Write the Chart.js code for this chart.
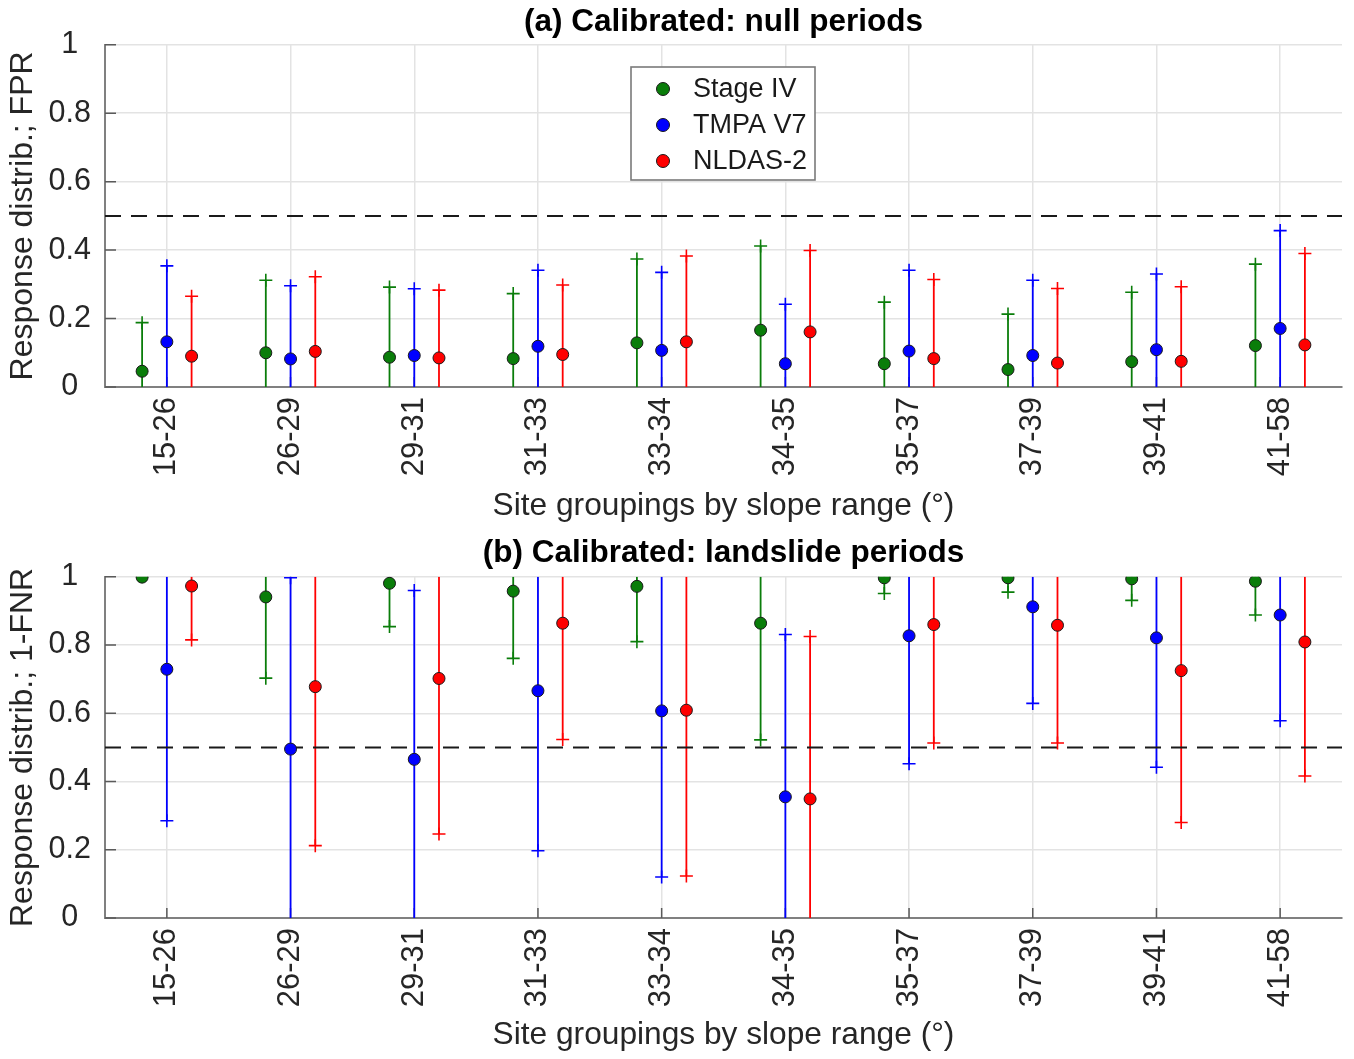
<!DOCTYPE html>
<html>
<head>
<meta charset="utf-8">
<script src="https://cdn.jsdelivr.net/npm/chart.js@4.4.1/dist/chart.umd.min.js"></script>
<style>
  html, body { margin: 0; padding: 0; background: #ffffff; }
  #wrap { position: relative; width: 1354px; height: 1059px; }
  canvas { position: absolute; left: 0; }
</style>
</head>
<body>
<div id="wrap">
  <canvas id="nullChart" width="1354" height="530" style="top:0px"></canvas>
  <canvas id="slideChart" width="1354" height="529" style="top:530px"></canvas>
</div>
<script>
// Site groupings (slope range, degrees)
const slopeRanges = ['15-26', '26-29', '29-31', '31-33', '33-34', '34-35', '35-37', '37-39', '39-41', '41-58'];
const seriesNames = ['Stage IV', 'TMPA V7', 'NLDAS-2'];
const yTickValues = [0, 0.2, 0.4, 0.6, 0.8, 1];
const yTickLabels = ['0', '0.2', '0.4', '0.6', '0.8', '1'];
const threshold = 0.5;

// (a) null periods: median FPR and response-distribution range
const stage4NullMed = [0.046, 0.100, 0.087, 0.083, 0.129, 0.166, 0.068, 0.051, 0.074, 0.121];
const stage4NullLo  = [0, 0, 0, 0, 0, 0, 0, 0, 0, 0];
const stage4NullHi  = [0.188, 0.312, 0.292, 0.273, 0.374, 0.412, 0.248, 0.213, 0.277, 0.359];
const tmpaNullMed   = [0.132, 0.082, 0.092, 0.119, 0.107, 0.068, 0.105, 0.092, 0.109, 0.171];
const tmpaNullLo    = [0, 0, 0, 0, 0, 0, 0, 0, 0, 0];
const tmpaNullHi    = [0.354, 0.296, 0.287, 0.341, 0.335, 0.242, 0.341, 0.312, 0.330, 0.457];
const nldasNullMed  = [0.090, 0.104, 0.085, 0.095, 0.132, 0.161, 0.083, 0.070, 0.075, 0.123];
const nldasNullLo   = [0, 0, 0, 0, 0, 0, 0, 0, 0, 0];
const nldasNullHi   = [0.265, 0.322, 0.283, 0.298, 0.383, 0.399, 0.314, 0.288, 0.293, 0.390];

// (b) landslide periods: median 1-FNR and response-distribution range
const stage4SlideMed = [0.999, 0.941, 0.981, 0.958, 0.972, 0.864, 0.997, 0.997, 0.994, 0.987];
const stage4SlideLo  = [1.000, 0.703, 0.854, 0.761, 0.810, 0.522, 0.951, 0.955, 0.931, 0.888];
const stage4SlideHi  = [1, 1, 1, 1, 1, 1, 1, 1, 1, 1];
const tmpaSlideMed   = [0.729, 0.495, 0.465, 0.666, 0.607, 0.355, 0.827, 0.912, 0.821, 0.888];
const tmpaSlideLo    = [0.285, 0, 0, 0.197, 0.120, 0, 0.452, 0.629, 0.442, 0.578];
const tmpaSlideHi    = [1, 0.997, 0.960, 1, 1, 0.831, 1, 1, 1, 1];
const nldasSlideMed  = [0.973, 0.678, 0.702, 0.864, 0.609, 0.349, 0.860, 0.858, 0.725, 0.809];
const nldasSlideLo   = [0.815, 0.212, 0.246, 0.523, 0.123, 0, 0.513, 0.513, 0.280, 0.416];
const nldasSlideHi   = [1, 1, 1, 1, 1, 0.825, 1, 1, 1, 1];

// Styling
const seriesColors = ['#0a7d0a', '#0000ff', '#ff0000'];
const seriesOffsets = [-0.2, 0, 0.2];
const FONT = "'Liberation Sans', Arial, Helvetica, sans-serif";
const TEXT = '#262626';
const GRID = '#e3e3e3';
const AXIS = '#808080';

function buildDatasets(meds, los, his) {
  const sets = [];
  meds.forEach((med, s) => {
    const color = seriesColors[s];
    const off = seriesOffsets[s];
    // whisker line from lower to upper end, with "+" at inner ends
    const segs = [];
    const ends = [];
    med.forEach((_, i) => {
      const x = i + 1 + off;
      segs.push({ x: x, y: los[s][i] }, { x: x, y: his[s][i] }, { x: x, y: null });
      [los[s][i], his[s][i]].forEach(v => { if (v > 0 && v < 1) ends.push({ x: x, y: v }); });
    });
    sets.push({
      type: 'line', data: segs, borderColor: color, borderWidth: 1.8,
      pointRadius: 0, spanGaps: false, showLine: true, order: 4
    });
    sets.push({
      type: 'scatter', data: ends, pointStyle: 'cross', pointRadius: 6.5,
      borderColor: color, pointBorderWidth: 1.6, borderWidth: 1.6, order: 2
    });
    sets.push({
      type: 'scatter', label: seriesNames[s],
      data: med.map((v, i) => ({ x: i + 1 + off, y: v })),
      pointStyle: 'circle', pointRadius: 6, backgroundColor: color,
      borderColor: '#1a1a1a', pointBorderWidth: 1, borderWidth: 1, order: 1
    });
  });
  sets.push({
    type: 'line', data: [{ x: 0.5, y: threshold }, { x: 10.5, y: threshold }],
    borderColor: '#1a1a1a', borderWidth: 2, borderDash: [16, 10],
    pointRadius: 0, order: 3
  });
  return sets;
}

// small inward tick marks along the left and bottom axes
const innerTicks = {
  id: 'innerTicks',
  beforeDatasetsDraw(chart) {
    const { ctx, chartArea: a, scales } = chart;
    ctx.save();
    ctx.strokeStyle = '#5a5a5a';
    ctx.lineWidth = 1.5;
    ctx.beginPath();
    yTickValues.forEach(v => {
      const py = scales.y.getPixelForValue(v);
      ctx.moveTo(a.left, py); ctx.lineTo(a.left + 11, py);
    });
    slopeRanges.forEach((_, i) => {
      const px = scales.x.getPixelForValue(i + 1);
      ctx.moveTo(px, a.bottom); ctx.lineTo(px, a.bottom - 10);
    });
    ctx.stroke();
    ctx.restore();
  }
};

// boxed legend inside the top panel
const boxLegend = {
  id: 'boxLegend',
  afterDraw(chart, args, opts) {
    if (!opts.show) return;
    const { ctx } = chart;
    const bx = 631, by = 67, bw = 184, bh = 113;
    ctx.save();
    ctx.fillStyle = '#ffffff';
    ctx.fillRect(bx, by, bw, bh);
    ctx.strokeStyle = '#7a7a7a';
    ctx.lineWidth = 1.6;
    ctx.strokeRect(bx, by, bw, bh);
    ctx.font = '27px ' + FONT;
    ctx.textBaseline = 'middle';
    ctx.textAlign = 'left';
    seriesNames.forEach((name, s) => {
      const ry = by + 22 + s * 36;
      ctx.beginPath();
      ctx.arc(bx + 32, ry, 6.5, 0, Math.PI * 2);
      ctx.fillStyle = seriesColors[s];
      ctx.fill();
      ctx.strokeStyle = '#1a1a1a';
      ctx.lineWidth = 1;
      ctx.stroke();
      ctx.fillStyle = '#1a1a1a';
      ctx.fillText(name, bx + 62, ry + 1);
    });
    ctx.restore();
  }
};

function makeChart(id, titleText, yTitle, meds, los, his, xHeight, titlePad, showLegend) {
  return new Chart(document.getElementById(id), {
    type: 'scatter',
    data: { datasets: buildDatasets(meds, los, his) },
    plugins: [innerTicks, boxLegend],
    options: {
      responsive: false,
      animation: false,
      events: [],
      devicePixelRatio: 1,
      layout: { padding: { left: 0, right: 12, top: 0, bottom: 0 } },
      plugins: {
        legend: { display: false },
        tooltip: { enabled: false },
        boxLegend: { show: showLegend },
        title: {
          display: true, text: titleText, color: '#000000', fullSize: false,
          font: { family: FONT, size: 31.5, weight: 'bold', lineHeight: 1.2 },
          padding: titlePad
        }
      },
      scales: {
        x: {
          type: 'linear', position: 'bottom', min: 0.5, max: 10.5,
          afterBuildTicks(scale) { scale.ticks = slopeRanges.map((_, i) => ({ value: i + 1 })); },
          afterFit(scale) { scale.height = xHeight; },
          ticks: {
            autoSkip: false, minRotation: 90, maxRotation: 90, padding: 10,
            color: TEXT, font: { family: FONT, size: 31 },
            callback: (v, i) => slopeRanges[i]
          },
          grid: { color: GRID, lineWidth: 1.5, drawTicks: false },
          border: { color: AXIS, width: 2 },
          title: {
            display: true, text: 'Site groupings by slope range (°)', color: TEXT,
            font: { family: FONT, size: 31.7, lineHeight: 1.2 }, padding: { top: 0, bottom: 5 }
          }
        },
        y: {
          type: 'linear', min: 0, max: 1,
          afterBuildTicks(scale) { scale.ticks = yTickValues.map(v => ({ value: v })); },
          afterFit(scale) { scale.width = 105; },
          ticks: {
            padding: 14, crossAlign: 'center', color: TEXT, font: { family: FONT, size: 30.5 },
            callback: (v, i) => yTickLabels[i]
          },
          grid: { color: GRID, lineWidth: 1.5, drawTicks: false },
          border: { color: AXIS, width: 2 },
          title: {
            display: true, text: yTitle, color: TEXT,
            font: { family: FONT, size: 32, lineHeight: 1.2 }, padding: { top: 4, bottom: 0 }
          }
        }
      }
    }
  });
}

makeChart('nullChart', '(a) Calibrated: null periods', 'Response distrib.; FPR',
  [stage4NullMed, tmpaNullMed, nldasNullMed],
  [stage4NullLo, tmpaNullLo, nldasNullLo],
  [stage4NullHi, tmpaNullHi, nldasNullHi],
  143, { top: 3, bottom: 4 }, true);

makeChart('slideChart', '(b) Calibrated: landslide periods', 'Response distrib.; 1-FNR',
  [stage4SlideMed, tmpaSlideMed, nldasSlideMed],
  [stage4SlideLo, tmpaSlideLo, nldasSlideLo],
  [stage4SlideHi, tmpaSlideHi, nldasSlideHi],
  141, { top: 4, bottom: 5 }, false);
</script>
</body>
</html>
